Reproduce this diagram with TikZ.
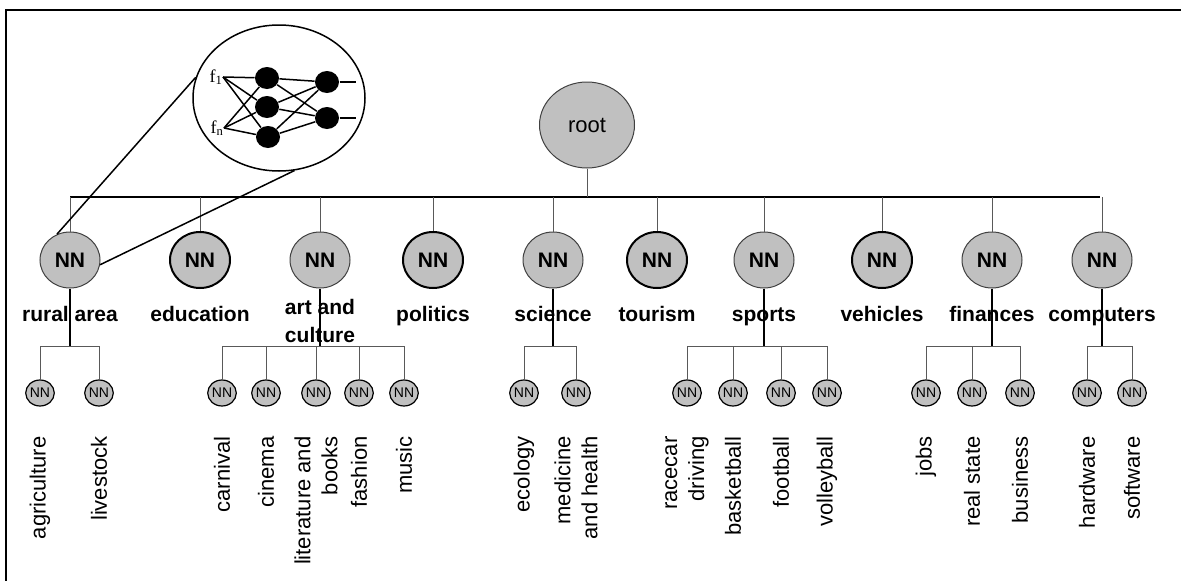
\documentclass[tikz,border=0pt]{standalone}
\usepackage{fontspec}
\setmainfont{Liberation Sans}
\newfontfamily\netfont{Liberation Serif}
\usetikzlibrary{shapes.geometric}
\definecolor{nngray}{RGB}{192,192,192}

\begin{document}
\begin{tikzpicture}[x=1pt,y=-1pt,line width=1pt,every node/.style={inner sep=0pt},
  topic/.style={ellipse,draw=black!75,fill=nngray,minimum width=60pt,minimum height=56pt,font=\fontsize{21}{21}\selectfont\bfseries},
  leaf/.style={topic,draw=black,line width=2pt},
  sub/.style={ellipse,draw,line width=1.2pt,fill=nngray,minimum width=27pt,minimum height=26pt,font=\fontsize{14}{14}\selectfont},
  unit/.style={ellipse,fill=black,minimum width=24pt,minimum height=22pt},
  lbl/.style={font=\fontsize{21}{28}\selectfont\bfseries,align=center},
  vlbl/.style={rotate=90,anchor=east,align=right,font=\fontsize{22}{27}\selectfont},
  link/.style={draw=black!65},
  trunk/.style={line width=2pt},
  net/.style={line width=1.5pt}]
\useasboundingbox (0,0) rectangle (1181,581);
\draw[line width=2pt] (6,581) -- (6,10) -- (1181,10);

% root and first level
\node[topic,font=\fontsize{22}{22}\selectfont,minimum width=95pt,minimum height=86pt] (root) at (587,125) {root};
\coordinate (busL) at (70,197); \coordinate (busR) at (1100,197);
\draw[trunk] (busL) -- (busR);
\draw[link] (root) -- (root |- busL);
\foreach \n/\x/\s/\t in {rural/70/topic/rural area, edu/200/leaf/education, art/320/topic/,
    pol/433/leaf/politics, sci/553/topic/science, tour/657/leaf/tourism, sport/764/topic/sports,
    veh/882/leaf/vehicles, fin/992/topic/finances, comp/1102/topic/computers} {
  \node[\s] (\n) at (\x,260) {NN};
  \node[lbl,anchor=base] (\n-l) at (\x,321) {\t};
  \draw[link] (\n |- busL) -- (\n);
}
\node[lbl] (art-l2) at (320,321) {art and\\culture};

% second level
\foreach \n/\x/\t in {agri/40/agriculture, live/99/livestock,
    carn/222/carnival, cine/266/cinema, lit/316/{literature and\\books}, fash/359/fashion, music/404/music,
    eco/524/ecology, med/576/{medicine\\and health},
    race/687/{racecar\\driving}, bask/733/basketball, foot/781/football, volley/827/volleyball,
    jobs/926/jobs, realst/972/real state, busi/1020/business,
    hard/1087/hardware, soft/1132/software} {
  \node[sub] (\n) at (\x,393) {NN};
  \node[vlbl] (\n-t) at (\x,436) {\t};
}
\foreach \p/\a/\b/\kids in {rural/agri/live/{agri,live}, art/carn/music/{carn,cine,lit,fash,music},
    sci/eco/med/{eco,med}, sport/race/volley/{race,bask,foot,volley},
    fin/jobs/busi/{jobs,realst,busi}, comp/hard/soft/{hard,soft}} {
  \draw[trunk] (\p) -- (\p |- 0,346);
  \draw[link] (\a |- 0,346) -- (\b |- 0,346);
  \foreach \k in \kids \draw[link] (\k |- 0,346) -- (\k);
}

% zoomed network
\node[ellipse,draw,line width=1.5pt,minimum width=172pt,minimum height=146pt] (zoom) at (279,98) {};
\coordinate (in1) at (223,77); \coordinate (in2) at (224,128);
\node[anchor=east,font=\netfont\fontsize{18}{18}\selectfont] (f1) at (in1) {f\textsubscript{1}};
\node[anchor=east,font=\netfont\fontsize{18}{18}\selectfont] (fn) at (in2) {f\textsubscript{n}};
\node[unit] (h1) at (267,78) {}; \node[unit] (h2) at (267,107) {}; \node[unit] (h3) at (268,137) {};
\node[unit] (o1) at (327,82) {}; \node[unit] (o2) at (327,118) {};
\coordinate (y1) at (356,82); \coordinate (y2) at (356,118);
\foreach \i in {in1,in2} \foreach \h in {h1,h2,h3} \draw[net] (\i) -- (\h);
\foreach \h in {h1,h2,h3} \foreach \o in {o1,o2} \draw[net] (\h) -- (\o);
\draw[net] (o1) -- (y1);
\draw[net] (o2) -- (y2);
\draw[net] (zoom.166) -- (rural.117);
\draw[net] (zoom.282) -- (rural.351);
\end{tikzpicture}
\end{document}
